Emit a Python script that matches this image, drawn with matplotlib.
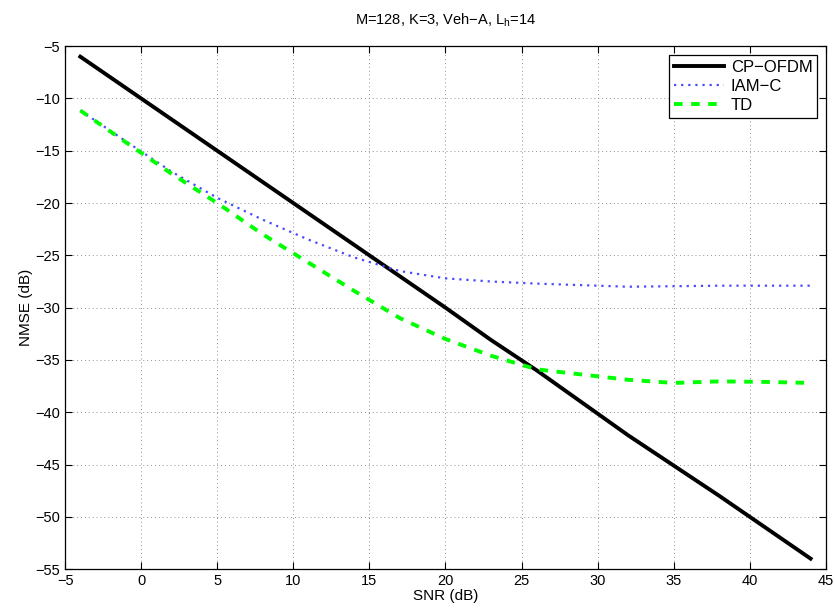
import matplotlib
matplotlib.use("Agg")
import matplotlib.pyplot as plt

plt.rcParams['font.family'] = ['Liberation Sans', 'DejaVu Sans']
plt.rcParams['font.size'] = 10
plt.rcParams['axes.unicode_minus'] = True

snr = [-4, -1, 2, 5, 8, 11, 14, 17, 20, 23, 26, 29, 32, 35, 38, 41, 44]
cp_ofdm = [-6.0, -9.0, -12.0, -15.0, -18.0, -21.0, -24.0, -27.0, -30.0, -33.1,
           -36.0, -39.1, -42.2, -45.1, -48.0, -51.0, -54.0]
iam_c = [-11.15, -14.1, -17.0, -19.5, -21.6, -23.5, -25.2, -26.5, -27.2, -27.5,
         -27.7, -27.85, -28.0, -27.95, -27.9, -27.9, -27.9]
td = [-11.15, -14.2, -17.2, -20.0, -23.0, -25.7, -28.4, -31.0, -33.0, -34.6,
      -35.9, -36.4, -36.9, -37.2, -37.05, -37.1, -37.2]

xticks = list(range(-5, 50, 5))
yticks = list(range(-55, 0, 5))

fig = plt.figure(figsize=(8.35, 6.08), dpi=100)
ax = fig.add_axes([0.078, 0.064, 0.911, 0.860])

ax.plot(snr, cp_ofdm, color='black', lw=2.8, ls='-', label='CP\u2212OFDM')
ax.plot(snr, iam_c, color='#4a4aff', lw=1.6, ls=(0, (1, 2.2)), label='IAM\u2212C')
ax.plot(snr, td, color='#00ff00', lw=2.8, ls=(0, (2.2, 2.2)), label='TD')

ax.set_xlim(-5, 45)
ax.set_ylim(-55, -5)
ax.set_xticks(xticks)
ax.set_yticks(yticks)
ax.grid(True, color='#909090', ls=(0, (1, 3)), lw=0.7)
ax.tick_params(direction='in', top=True, right=True, length=5, width=0.8, labelsize=10.5)
for s in ax.spines.values():
    s.set_linewidth(0.9)

ax.set_xlabel('SNR (dB)', fontsize=11, labelpad=1)
ax.set_ylabel('NMSE (dB)', fontsize=11, labelpad=2)
ax.set_title('M=128, K=3, Veh\u2212A, L$_\\mathregular{h}$=14', fontsize=10.5, pad=16)

leg = ax.legend(loc='upper right', fancybox=False, edgecolor='black', framealpha=1,
                fontsize=12, handlelength=3.0, borderaxespad=0.5, borderpad=0.3,
                labelspacing=0.25, handletextpad=0.4)
leg.get_frame().set_linewidth(0.9)

fig.savefig('out.png', dpi=100)
